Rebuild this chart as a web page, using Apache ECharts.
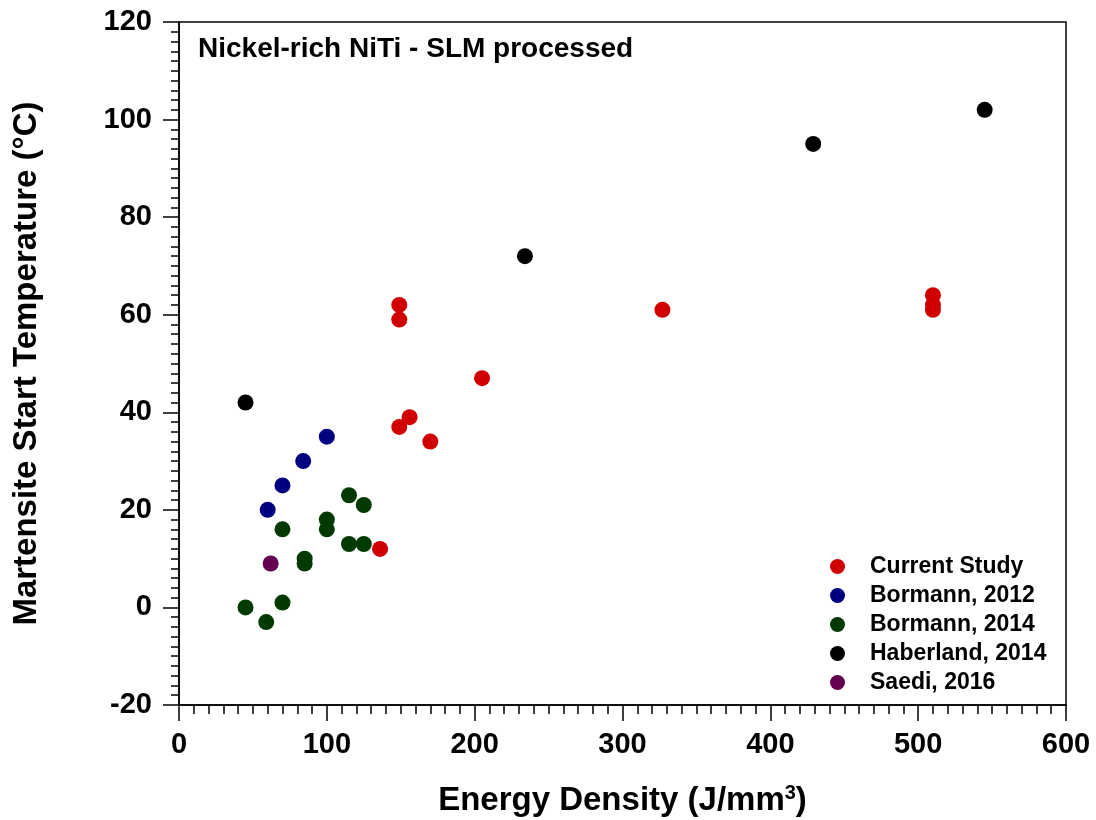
<!DOCTYPE html>
<html>
<head>
<meta charset="utf-8">
<script src="https://cdn.jsdelivr.net/npm/echarts@6/dist/echarts.min.js"></script>
<style>
  html, body { margin: 0; padding: 0; background: #fff; }
  #chart { width: 1096px; height: 820px; }
</style>
</head>
<body>
<div id="chart"></div>
<script>
// values: energy density (J/mm3) vs Ms (°C)
const currentStudyX = [149, 149, 149, 156, 170, 205, 136, 327, 510, 510, 510];
const currentStudyY = [62, 59, 37, 39, 34, 47, 12, 61, 64, 62, 61];

const bormann2012X = [60, 70, 84, 100];
const bormann2012Y = [20, 25, 30, 35];

const bormann2014X = [115, 125, 100, 100, 70, 115, 125, 85, 85, 70, 45, 59];
const bormann2014Y = [23, 21, 18, 16, 16, 13, 13, 10, 9, 1, 0, -3];

const haberland2014X = [45, 234, 429, 545];
const haberland2014Y = [42, 72, 95, 102];

const saedi2016X = [62];
const saedi2016Y = [9];

const seriesNames = ['Current Study', 'Bormann, 2012', 'Bormann, 2014', 'Haberland, 2014', 'Saedi, 2016'];
const seriesColors = ['#d10000', '#000080', '#003a00', '#000000', '#650050'];

const FONT = 'Liberation Sans';

function pairs(xs, ys) {
  return xs.map((x, i) => [x, ys[i]])
}

const allData = [
  pairs(currentStudyX, currentStudyY),
  pairs(bormann2012X, bormann2012Y),
  pairs(bormann2014X, bormann2014Y),
  pairs(haberland2014X, haberland2014Y),
  pairs(saedi2016X, saedi2016Y),
];

const tickStyle = {color: '#000', width: 1.5};

const chart = echarts.init(document.getElementById('chart'));
const option = {
  backgroundColor: '#fff',
  animation: false,
  textStyle: {fontFamily: FONT},
  title: {
    text: 'Nickel-rich NiTi - SLM processed',
    left: 193,
    top: 30,
    textStyle: {fontFamily: FONT, fontSize: 28, fontWeight: 'bold', color: '#000'}
  },
  legend: {
    orient: 'vertical',
    left: 825,
    top: 550,
    itemWidth: 15,
    itemHeight: 15,
    itemGap: 6,
    icon: 'circle',
    data: seriesNames,
    textStyle: {fontFamily: FONT, fontSize: 23, fontWeight: 'bold', color: '#000', padding: [0, 0, 0, 20]}
  },
  grid: {
    left: 179,
    right: 30,
    top: 22,
    bottom: 115,
    outerBoundsMode: 'none',
    containLabel: false,
    show: true,
    borderColor: '#000',
    borderWidth: 1.5,
    backgroundColor: 'transparent'
  },
  xAxis: {
    type: 'value',
    min: 0,
    max: 600,
    interval: 100,
    name: 'Energy Density (J/mm{sup|3})',
    nameLocation: 'middle',
    nameGap: 78,
    nameTextStyle: {
      fontFamily: FONT, fontSize: 33, fontWeight: 'bold', color: '#000',
      rich: {
        sup: {fontFamily: FONT, fontSize: 20, fontWeight: 'bold', color: '#000', padding: [0, 0, 16, 0]}
      }
    },
    axisLine: {show: true, onZero: false, lineStyle: tickStyle},
    axisTick: {show: true, inside: false, length: 16, lineStyle: tickStyle},
    minorTick: {show: true, splitNumber: 10, length: 9, lineStyle: tickStyle},
    splitLine: {show: false},
    axisLabel: {fontFamily: FONT, fontSize: 29, fontWeight: 'bold', color: '#000', margin: 25}
  },
  yAxis: {
    type: 'value',
    min: -20,
    max: 120,
    interval: 20,
    name: 'Martensite Start Temperature (°C)',
    nameLocation: 'middle',
    nameGap: 136,
    nameTextStyle: {fontFamily: FONT, fontSize: 33, fontWeight: 'bold', color: '#000'},
    axisLine: {show: true, onZero: false, lineStyle: tickStyle},
    axisTick: {show: true, inside: false, length: 16, lineStyle: tickStyle},
    minorTick: {show: true, splitNumber: 10, length: 8, lineStyle: tickStyle},
    splitLine: {show: false},
    axisLabel: {fontFamily: FONT, fontSize: 29, fontWeight: 'bold', color: '#000', margin: 27}
  },
  series: seriesNames.map((name, i) => ({
    name: name,
    type: 'scatter',
    symbol: 'circle',
    symbolSize: 16,
    itemStyle: {color: seriesColors[i], opacity: 1},
    data: allData[i]
  }))
};
chart.setOption(option);
</script>
</body>
</html>
